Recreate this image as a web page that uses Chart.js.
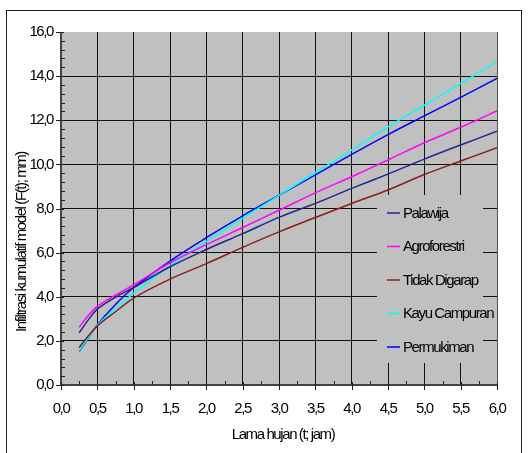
<!DOCTYPE html>
<html><head><meta charset="utf-8">
<script src="https://cdn.jsdelivr.net/npm/chart.js@4/dist/chart.umd.min.js"></script>
<style>
html,body{margin:0;padding:0;background:#fff;overflow:hidden}
#wrap{position:relative;width:529px;height:453px}
#frame{position:absolute;left:6px;top:10px;width:516px;height:470px;border:1.5px solid #222;box-sizing:border-box}
canvas{position:absolute;left:0;top:0}
</style></head><body>
<div id="wrap"><div id="frame"></div><canvas id="c" width="529" height="453"></canvas></div>
<script>
// ---- data ----
const tHours = [0.25, 0.375, 0.5, 0.75, 1.0, 1.5, 2.0, 2.5, 3.0, 3.5, 4.0, 4.5, 5.0, 5.5, 6.0];
const palawija     = [2.36, 2.95, 3.44, 3.98, 4.42, 5.36, 6.14, 6.86, 7.60, 8.23, 8.91, 9.56, 10.24, 10.88, 11.50];
const agroforestri = [2.62, 3.15, 3.56, 4.08, 4.54, 5.54, 6.36, 7.14, 7.92, 8.71, 9.44, 10.20, 10.98, 11.68, 12.42];
const tidakDigarap = [1.70, 2.22, 2.68, 3.32, 3.94, 4.80, 5.50, 6.24, 6.94, 7.59, 8.23, 8.84, 9.54, 10.15, 10.76];
const kayuCampuran = [1.56, 2.14, 2.72, 3.45, 4.15, 5.40, 6.50, 7.55, 8.60, 9.62, 10.65, 11.70, 12.68, 13.67, 14.65];
const permukiman   = [1.53, 2.12, 2.73, 3.65, 4.42, 5.62, 6.68, 7.67, 8.60, 9.52, 10.45, 11.35, 12.20, 13.04, 13.90];
const seriesNames  = ['Palawija', 'Agroforestri', 'Tidak Digarap', 'Kayu Campuran', 'Permukiman'];
const seriesColors = ['#23238f', '#ff00ff', '#8b1c1c', '#00ffff', '#0000ff'];
const xTitle = 'Lama hujan (t; jam)';
const yTitle = 'Infiltrasi kumulatif model (F(t); mm)';

const FONT = "'Liberation Sans', Arial, sans-serif";
const LS = '-1.4px';
Chart.defaults.font.family = FONT;
Chart.defaults.color = '#000';

const allSeries = [palawija, agroforestri, tidakDigarap, kayuCampuran, permukiman];
const datasets = allSeries.map((vals, i) => ({
  label: seriesNames[i],
  data: tHours.map((t, j) => ({x: t, y: vals[j]})),
  borderColor: seriesColors[i],
  borderWidth: 1.5,
  pointRadius: 0,
  tension: 0.35,
  fill: false
}));

const fmt = v => Number(v).toFixed(1).replace('.', ',');

const decor = {
  id: 'decor',
  beforeDraw(chart) {
    const {ctx, chartArea: a} = chart;
    ctx.letterSpacing = LS;
    ctx.save();
    ctx.fillStyle = '#c0c0c0';
    ctx.fillRect(a.left, a.top, a.right - a.left, a.bottom - a.top);
    ctx.restore();
  },
  afterDatasetsDraw(chart) {
    const {ctx, chartArea: a, scales} = chart;
    const xs = scales.x, ys = scales.y;
    ctx.save();
    ctx.letterSpacing = LS;
    // legend box
    const lx = a.right - 120, ly = a.top + 163;
    ctx.fillStyle = '#c0c0c0';
    ctx.fillRect(lx, ly, 106, 168);
    ctx.font = '15px ' + FONT;
    ctx.textBaseline = 'middle';
    ctx.textAlign = 'left';
    chart.data.datasets.forEach((ds, i) => {
      const yy = ly + 18 + i * 33.5;
      ctx.strokeStyle = ds.borderColor;
      ctx.lineWidth = 1.5;
      ctx.beginPath();
      ctx.moveTo(lx + 10, yy); ctx.lineTo(lx + 23, yy);
      ctx.stroke();
      ctx.fillStyle = '#000';
      ctx.fillText(ds.label, lx + 26, yy + 0.5);
    });
    // axes lines
    ctx.strokeStyle = '#444';
    ctx.lineWidth = 2;
    ctx.beginPath();
    ctx.moveTo(a.left, a.top); ctx.lineTo(a.left, a.bottom);
    ctx.lineTo(a.right, a.bottom);
    ctx.stroke();
    // ticks
    ctx.strokeStyle = '#222';
    ctx.lineWidth = 1;
    ctx.beginPath();
    for (let k = 0; k <= 24; k++) {
      const px = Math.round(xs.getPixelForValue(k * 0.25)) + 0.5;
      if (k % 2 === 0) { ctx.moveTo(px, a.bottom - 3); ctx.lineTo(px, a.bottom + 5); }
      else { ctx.moveTo(px, a.bottom - 4); ctx.lineTo(px, a.bottom); }
    }
    for (let k = 0; k <= 40; k++) {
      const py = Math.round(ys.getPixelForValue(k * 0.4)) + 0.5;
      if (k % 5 === 0) { ctx.moveTo(a.left - 5, py); ctx.lineTo(a.left + 3, py); }
      else { ctx.moveTo(a.left, py); ctx.lineTo(a.left + 4, py); }
    }
    ctx.stroke();
    // titles
    ctx.fillStyle = '#000';
    ctx.font = '15px ' + FONT;
    ctx.textAlign = 'center';
    ctx.textBaseline = 'middle';
    ctx.fillText(xTitle, 283, 435);
    ctx.translate(22, 242);
    ctx.rotate(-Math.PI / 2);
    ctx.fillText(yTitle, 0, 0);
    ctx.restore();
  }
};

new Chart(document.getElementById('c'), {
  type: 'line',
  data: {datasets},
  options: {
    responsive: false,
    animation: false,
    devicePixelRatio: 1,
    layout: {padding: {top: 32, right: 32, left: 0, bottom: 0}},
    plugins: {legend: {display: false}, tooltip: {enabled: false}},
    scales: {
      x: {
        type: 'linear', min: 0, max: 6,
        ticks: {stepSize: 0.5, callback: fmt, font: {size: 15}, padding: 15, maxRotation: 0, autoSkip: false},
        grid: {color: ctx => ctx.tick && ctx.tick.value === 6 ? '#555' : '#111', lineWidth: 1, drawTicks: false},
        border: {display: false},
        afterFit: s => { s.height = 68; }
      },
      y: {
        min: 0, max: 16,
        ticks: {stepSize: 2, callback: fmt, font: {size: 15}, padding: 8},
        grid: {color: ctx => ctx.tick && ctx.tick.value === 16 ? 'rgba(0,0,0,0)' : '#111', lineWidth: 1, drawTicks: false},
        border: {display: false},
        afterFit: s => { s.width = 61; }
      }
    }
  },
  plugins: [decor]
});
</script>
</body></html>
